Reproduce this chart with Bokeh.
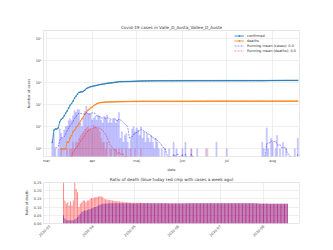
import numpy as np
import pandas as pd
from datetime import datetime
from bokeh.plotting import figure
from bokeh.layouts import column
from bokeh.models import (Range1d, FixedTicker, Label, Legend, LegendItem,
                          ColumnDataSource)
from bokeh.embed import file_html
from bokeh.resources import INLINE

# ---------------- data (daily new cases / deaths, from 2020-03-01) ----------------
cases_mar = [0, 0, 0, 0, 2, 5, 1, 0, 1, 8, 5, 3, 7, 10, 11, 19, 24, 19, 32, 55,
             45, 60, 60, 15, 10, 25, 50, 85, 40, 40, 40]
cases_apr = [20, 25, 30, 20, 35, 30, 20, 15, 30, 25, 35, 15, 20, 15, 20, 25, 15, 20, 45, 3,
             6, 2, 4, 5, 2, 1, 3, 8, 10, 6]
cases_may = [9, 7, 4, 10, 3, 6, 2, 5, 3, 2, 4, 2, 1, 3, 2, 1, 0, 1, 0, 1,
             0, 0, 1, 0, 0, 2, 0, 1, 0, 0, 0]
cases_jun = [1, 0, 2, 0, 0, 0, 1, 0, 0, 0, 1, 0, 0, 0, 0, 0, 1, 0, 0, 0,
             0, 0, 0, 2, 0, 0, 0, 0, 0, 0]
cases_jul = [1, 0, 0, 0, 0, 0, 0, 0, 0, 0, 0, 0, 0, 0, 0, 0, 0, 0, 0, 0,
             0, 0, 0, 0, 2, 1, 0, 9, 1, 0, 3]
cases_aug = [2, 0, 1, 4, 0, 1, 0, 2, 0, 1, 0, 0, 0, 0, 0, 1, 0, 3]

deaths_mar = [0, 0, 0, 0, 0, 0, 0, 0, 0, 0, 1, 0, 0, 0, 1, 0, 1, 1, 2, 1,
              2, 2, 3, 4, 5, 6, 8, 9, 10, 8, 9]
deaths_apr = [7, 12, 10, 9, 8, 6, 3, 2, 2, 1, 2, 0, 1, 1, 0, 1, 1, 0, 1, 0,
              1, 0, 0, 1, 0, 0, 1, 0, 0, 1]
deaths_may = [0, 0, 0, 1, 0, 0, 0, 0, 0, 0, 0, 0, 0, 0, 0, 0, 0, 0, 0, 0,
              0, 0, 0, 0, 0, 0, 0, 0, 0, 0, 0]
deaths_jun = [0, 0, 0, 0, 0, 0, 1, 0, 0, 0, 0, 0, 0, 0, 0, 0, 0, 1, 0, 0,
              0, 0, 0, 0, 0, 0, 0, 0, 0, 0]
deaths_jul = [0, 0, 0, 0, 0, 0, 0, 0, 0, 0, 0, 0, 0, 0, 0, 0, 0, 0, 0, 0,
              0, 0, 0, 0, 0, 0, 0, 0, 0, 0, 0]
deaths_aug = [0, 0, 0, 0, 0, 0, 0, 0, 0, 0, 0, 0, 0, 0, 0, 0, 0, 0]

# ratio of death, from 2020-03-11
ratio_today_mar = [0.05, 0.03, 0.02, 0.02, 0.02, 0.018, 0.02, 0.02, 0.025, 0.03,
                   0.04, 0.05, 0.06, 0.07, 0.075, 0.08, 0.08, 0.082, 0.085, 0.088, 0.092]
ratio_today_apr = [0.095, 0.10, 0.10, 0.105, 0.11, 0.115, 0.118, 0.12, 0.12, 0.121,
                   0.122, 0.122, 0.123, 0.123, 0.123, 0.124, 0.124, 0.124, 0.124, 0.124,
                   0.124, 0.124, 0.123, 0.123, 0.123, 0.123, 0.123, 0.123, 0.122, 0.122]
ratio_today_may = [0.122, 0.122, 0.122, 0.123, 0.123, 0.123, 0.123, 0.123, 0.123, 0.123,
                   0.123, 0.123, 0.123, 0.123, 0.123, 0.123, 0.123, 0.123, 0.123, 0.123,
                   0.123, 0.123, 0.123, 0.123, 0.122, 0.122, 0.122, 0.122, 0.122, 0.122, 0.122]
ratio_today_jun = [0.122, 0.122, 0.122, 0.122, 0.122, 0.122, 0.123, 0.123, 0.123, 0.123,
                   0.123, 0.123, 0.123, 0.123, 0.123, 0.123, 0.123, 0.124, 0.124, 0.124,
                   0.124, 0.124, 0.124, 0.123, 0.123, 0.123, 0.123, 0.123, 0.123, 0.123]
ratio_today_jul = [0.123, 0.123, 0.123, 0.123, 0.123, 0.123, 0.123, 0.123, 0.123, 0.123,
                   0.123, 0.123, 0.123, 0.123, 0.123, 0.123, 0.123, 0.123, 0.123, 0.123,
                   0.123, 0.123, 0.123, 0.123, 0.123, 0.122, 0.122, 0.122, 0.121, 0.121, 0.121]
ratio_today_aug = [0.121, 0.121, 0.121, 0.120, 0.120, 0.120, 0.120, 0.120, 0.120, 0.120,
                   0.120, 0.120, 0.120, 0.120, 0.120, 0.120, 0.120, 0.120]

ratio_week_mar = [0.50, 0.14, 0.12, 0.13, 0.11, 0.135, 0.11, 0.14, 0.30, 0.21,
                  0.19, 0.10, 0.12, 0.13, 0.14, 0.14, 0.13, 0.14, 0.14, 0.15, 0.155]
ratio_week_apr = [0.155, 0.158, 0.16, 0.162, 0.165, 0.166, 0.165, 0.16, 0.152, 0.148,
                  0.146, 0.145, 0.143, 0.142, 0.14, 0.138, 0.137, 0.136, 0.135, 0.134,
                  0.133, 0.132, 0.13, 0.13, 0.129, 0.128, 0.128, 0.127, 0.127, 0.126]
ratio_week_may = [0.126, 0.126, 0.126, 0.126, 0.126, 0.126, 0.125, 0.125, 0.125, 0.125,
                  0.125, 0.124, 0.124, 0.124, 0.124, 0.124, 0.124, 0.124, 0.124, 0.124,
                  0.124, 0.124, 0.124, 0.123, 0.123, 0.123, 0.123, 0.123, 0.123, 0.123, 0.123]
ratio_week_jun = [0.123, 0.123, 0.123, 0.123, 0.123, 0.123, 0.123, 0.123, 0.123, 0.123,
                  0.123, 0.123, 0.123, 0.123, 0.123, 0.123, 0.123, 0.124, 0.124, 0.124,
                  0.124, 0.124, 0.124, 0.124, 0.123, 0.123, 0.123, 0.123, 0.123, 0.123]
ratio_week_jul = [0.123, 0.123, 0.123, 0.123, 0.123, 0.123, 0.123, 0.123, 0.123, 0.123,
                  0.123, 0.123, 0.123, 0.123, 0.123, 0.123, 0.123, 0.123, 0.123, 0.123,
                  0.123, 0.123, 0.123, 0.123, 0.123, 0.123, 0.123, 0.123, 0.122, 0.122, 0.122]
ratio_week_aug = [0.122, 0.122, 0.122, 0.122, 0.121, 0.121, 0.121, 0.121, 0.121, 0.121,
                  0.121, 0.121, 0.121, 0.121, 0.121, 0.121, 0.121, 0.121]

top_tick_dates = ["2020-03-01", "2020-04-01", "2020-05-01", "2020-06-01", "2020-07-01", "2020-08-01"]
top_tick_labels = ["mar", "apr", "maj", "jun", "jul", "aug"]
bottom_tick_labels = ["2020-03", "2020-04", "2020-05", "2020-06", "2020-07", "2020-08"]
log_ticks = [1, 10, 100, 1000, 10000, 100000]
log_tick_labels = ["10⁰", "10¹", "10²", "10³", "10⁴", "10⁵"]
ratio_ticks = [0.0, 0.05, 0.10, 0.15, 0.20, 0.25]
ratio_tick_labels = ["0.00", "0.05", "0.10", "0.15", "0.20", "0.25"]

title_top = "Covid-19 cases in Valle_D_Aosta_Vallee_D_Aoste"
title_bottom = "Ratio of death (blue today red cmp with cases a week ago)"

# ---------------- build ----------------
FONT = "DejaVu Sans"
TXT = "#444444"
GRID = "#e8e8e8"
DAY = 86400000

cases = np.array(cases_mar + cases_apr + cases_may + cases_jun + cases_jul + cases_aug, float)
deaths = np.array(deaths_mar + deaths_apr + deaths_may + deaths_jun + deaths_jul + deaths_aug, float)
dates = pd.date_range("2020-03-01", periods=len(cases), freq="D")
confirmed = np.cumsum(cases)
dead = np.cumsum(deaths)
rm_cases = pd.Series(cases).rolling(7).mean().to_numpy()
rm_deaths = pd.Series(deaths).rolling(7).mean().to_numpy()


def pos(a):
    a = np.array(a, float)
    a[~(a > 0)] = np.nan
    return a


YMIN = 0.45
src = ColumnDataSource(dict(d=dates, conf=pos(confirmed), dead=pos(dead),
                            rmc=pos(rm_cases), rmd=pos(rm_deaths)))
cmask = cases > 0
dmask = deaths > 0
src_cb = ColumnDataSource(dict(d=dates[cmask], top=cases[cmask]))
src_db = ColumnDataSource(dict(d=dates[dmask], top=deaths[dmask]))

p = figure(width=333, height=174, x_axis_type="datetime", y_axis_type="log",
           output_backend="svg", toolbar_location=None,
           x_range=Range1d(datetime(2020, 2, 28, 0), datetime(2020, 8, 19, 4)),
           y_range=Range1d(YMIN, 2.4e5),
           min_border_left=41, min_border_right=34, min_border_top=30, min_border_bottom=10)
p.title.text = title_top
p.title.align = "center"
p.title.text_font = FONT
p.title.text_font_size = "4.2px"
p.title.text_font_style = "normal"
p.title.text_color = "#333333"
p.title.standoff = 1

p.vbar(x="d", top="top", bottom=YMIN, width=0.75 * DAY, source=src_cb,
       fill_color="blue", fill_alpha=0.13, line_color="blue", line_alpha=0.35, line_width=0.4)
p.vbar(x="d", top="top", bottom=YMIN, width=0.75 * DAY, source=src_db,
       fill_color="red", fill_alpha=0.18, line_color="red", line_alpha=0.2, line_width=0.4)

l_conf = p.line("d", "conf", source=src, color="#1f77b4", line_width=0.8)
s_conf = p.scatter("d", "conf", source=src, color="#1f77b4", size=1.6, marker="cross", line_width=0.6)
l_dead = p.line("d", "dead", source=src, color="#ff7f0e", line_width=0.8)
s_dead = p.scatter("d", "dead", source=src, color="#ff7f0e", size=1.6, marker="cross", line_width=0.6)
l_rmc = p.line("d", "rmc", source=src, color="blue", line_width=0.7, line_alpha=0.6, line_dash="2 1")
l_rmd = p.line("d", "rmd", source=src, color="red", line_width=0.7, line_alpha=0.6, line_dash="2 1")

leg = Legend(items=[LegendItem(label="confirmed", renderers=[l_conf, s_conf]),
                    LegendItem(label="deaths", renderers=[l_dead, s_dead]),
                    LegendItem(label="Running mean (cases): 0.0", renderers=[l_rmc]),
                    LegendItem(label="Running mean (deaths): 0.0", renderers=[l_rmd])],
             location="top_right", label_text_font=FONT, label_text_font_size="3.5px",
             label_text_color="#333333", glyph_height=5, glyph_width=10, label_height=5,
             label_standoff=3, spacing=0, padding=1, margin=2,
             background_fill_alpha=0, border_line_alpha=0)
p.add_layout(leg)

top_ms = [pd.Timestamp(t).value // 10**6 for t in top_tick_dates]
p.xaxis.ticker = FixedTicker(ticks=top_ms)
p.xaxis.major_label_overrides = {t: l for t, l in zip(top_ms, top_tick_labels)}
p.yaxis.ticker = FixedTicker(ticks=log_ticks)
p.yaxis.major_label_overrides = {t: l for t, l in zip(log_ticks, log_tick_labels)}
p.xaxis.axis_label = "date"
p.yaxis.axis_label = "Number of cases"

p.add_layout(Label(x=top_ms[0], x_units="data", y=-8, y_units="screen", text="2020",
                   text_font=FONT, text_font_size="3.5px", text_color=TXT,
                   text_align="center", text_baseline="top"))


def style(fig):
    for ax in fig.xaxis + fig.yaxis:
        ax.axis_line_color = None
        ax.major_tick_line_color = None
        ax.minor_tick_line_color = None
        ax.major_tick_out = 0
        ax.major_label_standoff = 2
        ax.major_label_text_font = FONT
        ax.major_label_text_font_size = "3.5px"
        ax.major_label_text_color = TXT
        ax.axis_label_text_font = FONT
        ax.axis_label_text_font_size = "3.5px"
        ax.axis_label_text_font_style = "normal"
        ax.axis_label_text_color = TXT
        ax.axis_label_standoff = 2
    fig.xgrid.grid_line_color = GRID
    fig.ygrid.grid_line_color = GRID
    fig.xgrid.grid_line_width = 0.7
    fig.ygrid.grid_line_width = 0.7
    fig.outline_line_color = "#dddddd"
    fig.outline_line_width = 0.7
    fig.background_fill_color = "white"
    fig.border_fill_color = "white"


style(p)

# ---------------- bottom ----------------
ratio_today = np.array(ratio_today_mar + ratio_today_apr + ratio_today_may + ratio_today_jun
                       + ratio_today_jul + ratio_today_aug)
ratio_week = np.array(ratio_week_mar + ratio_week_apr + ratio_week_may + ratio_week_jun
                      + ratio_week_jul + ratio_week_aug)
rdates = pd.date_range("2020-03-11", periods=len(ratio_today), freq="D")
rsrc = ColumnDataSource(dict(d=rdates, today=ratio_today, week=ratio_week))

q = figure(width=333, height=76, x_axis_type="datetime", output_backend="svg",
           toolbar_location=None,
           x_range=Range1d(datetime(2020, 2, 25, 16), datetime(2020, 8, 26, 17)),
           y_range=Range1d(0, 0.25),
           min_border_left=43, min_border_right=34, min_border_top=0, min_border_bottom=27)
q.title.text = title_bottom
q.title.align = "center"
q.title.text_font = FONT
q.title.text_font_size = "4.2px"
q.title.text_font_style = "normal"
q.title.text_color = "#333333"
q.title.standoff = 1

q.vbar(x="d", top="today", bottom=0, width=0.75 * DAY, source=rsrc,
       fill_color="blue", fill_alpha=0.5, line_color=None)
q.vbar(x="d", top="week", bottom=0, width=0.75 * DAY, source=rsrc,
       fill_color="red", fill_alpha=0.45, line_color=None)

q.xaxis.ticker = FixedTicker(ticks=top_ms)
q.xaxis.major_label_overrides = {t: l for t, l in zip(top_ms, bottom_tick_labels)}
q.xaxis.major_label_orientation = np.pi / 4
q.yaxis.ticker = FixedTicker(ticks=ratio_ticks)
q.yaxis.major_label_overrides = {t: l for t, l in zip(ratio_ticks, ratio_tick_labels)}
q.yaxis.axis_label = "Ratio of death"
style(q)

layout = column(p, q, spacing=0)
open("out.html", "w").write(file_html(layout, INLINE))
